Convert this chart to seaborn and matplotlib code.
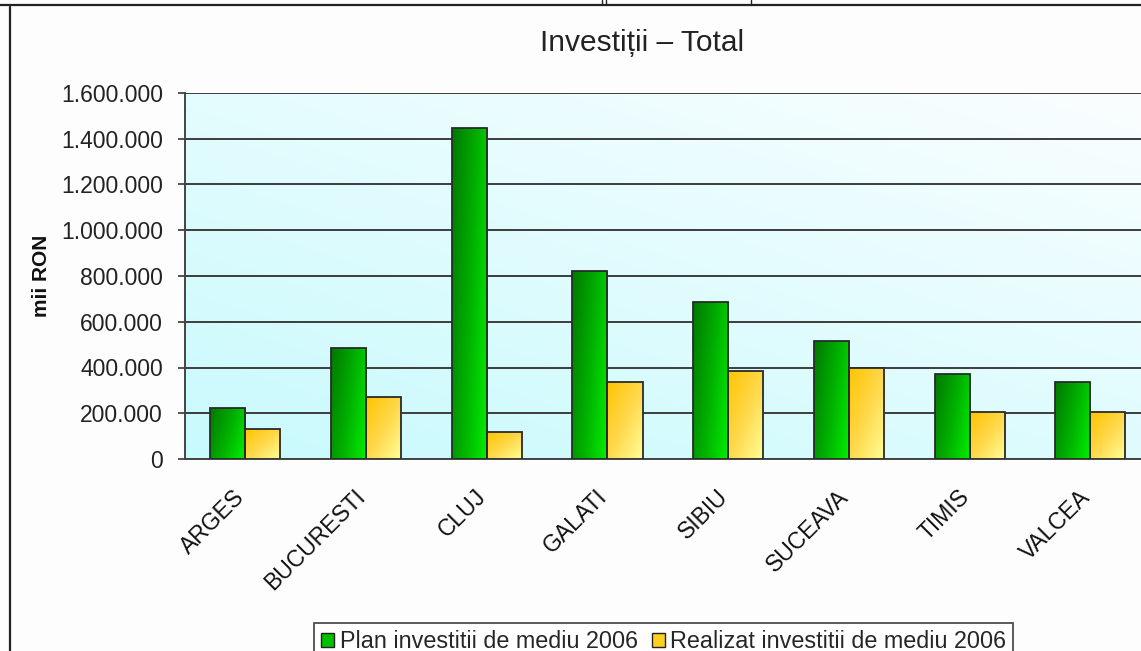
import matplotlib
matplotlib.use("Agg")
import matplotlib.pyplot as plt
import matplotlib.transforms as mtransforms
from matplotlib.colors import LinearSegmentedColormap
from matplotlib.lines import Line2D
from matplotlib.patches import Patch
from matplotlib.ticker import FuncFormatter, FixedLocator
import numpy as np
import pandas as pd
import seaborn as sns

# values (mii RON)
judete = ["ARGES", "BUCURESTI", "CLUJ", "GALATI", "SIBIU", "SUCEAVA", "TIMIS", "VALCEA"]
plan_2006 = [223000, 485000, 1447000, 822000, 686000, 516000, 372000, 337000]
realizat_2006 = [131000, 271000, 118000, 337000, 385000, 398000, 205000, 205000]
serii = ["Plan investitii de mediu 2006", "Realizat investitii de mediu 2006"]
y_ticks = [0, 200000, 400000, 600000, 800000, 1000000, 1200000, 1400000, 1600000]

df = pd.DataFrame({
    "judet": judete * 2,
    "valoare": plan_2006 + realizat_2006,
    "serie": [serii[0]] * len(judete) + [serii[1]] * len(judete),
})

sns.set_style("white")
plt.rcParams["font.family"] = ["Liberation Sans", "DejaVu Sans"]

W, H = 1141, 651
fig = plt.figure(figsize=(W / 100, H / 100), dpi=100, facecolor="#fdfdfd")
ax = fig.add_axes([185 / W, 1 - 459 / H, 965.7 / W, 366 / H])

# background gradient of the plot area
bg = LinearSegmentedColormap.from_list("bg", ["#c8fafd", "#fbfeff"])
gx, gy = np.meshgrid(np.linspace(0, 1, 200), np.linspace(0, 1, 200))
ax.imshow(0.55 * gy + 0.45 * gx, cmap=bg, extent=[0, 1, 0, 1], origin="lower",
          transform=ax.transAxes, aspect="auto", zorder=0, interpolation="bicubic")

sns.barplot(data=df, x="judet", y="valoare", hue="serie", order=judete, hue_order=serii,
            palette=["#00c000", "#ffd730"], width=0.58, edgecolor="#2a2a2a",
            linewidth=1.3, legend=False, ax=ax, zorder=3)

# gradient fill on bars
green = LinearSegmentedColormap.from_list("g", ["#007800", "#00b000", "#00f000"])
yellow = LinearSegmentedColormap.from_list("y", ["#ffc400", "#ffd84a", "#ffff99"])
bx, by = np.meshgrid(np.linspace(0, 1, 60), np.linspace(1, 0, 60))
n = len(judete)
for i, bar in enumerate(ax.patches[:2 * n]):
    cmap = green if i < n else yellow
    grad = 0.7 * bx + 0.3 * (1 - by) if i < n else 0.5 * bx + 0.5 * (1 - by)
    x0, y0 = bar.get_x(), bar.get_y()
    im = ax.imshow(grad, cmap=cmap, extent=[x0, x0 + bar.get_width(), y0, y0 + bar.get_height()],
                   aspect="auto", zorder=3.5, origin="upper", interpolation="bicubic")
    im.set_clip_path(bar)
    bar.set_facecolor("none")
    bar.set_zorder(4)

ax.set_xlim(-0.5, len(judete) - 0.5)
ax.set_ylim(0, 1600000)
ax.set_yticks(y_ticks)
ax.yaxis.set_major_formatter(FuncFormatter(lambda v, p: f"{int(v):,}".replace(",", ".")))
ax.grid(axis="y", color="#3c3c3c", linewidth=1.4, zorder=1)
ax.set_axisbelow(True)

ax.xaxis.set_minor_locator(FixedLocator(np.arange(-0.5, len(judete), 1.0)))
ax.tick_params(axis="x", which="major", length=0, pad=19)
ax.tick_params(axis="x", which="minor", length=4, width=1.3, color="#444444", direction="out")
ax.tick_params(axis="y", length=5, width=1.3, color="#444444", direction="out", pad=11,
               labelsize=16.5, labelcolor="#222222", left=True)
plt.setp(ax.get_xticklabels(), rotation=45, ha="right", va="top", rotation_mode="anchor",
         fontsize=16.5, color="#111111")
shift = mtransforms.ScaledTranslation(-12 / 100, 0, fig.dpi_scale_trans)
for lbl in ax.get_xticklabels():
    lbl.set_transform(lbl.get_transform() + shift)

for side in ["top", "right"]:
    ax.spines[side].set_visible(False)
for side in ["left", "bottom"]:
    ax.spines[side].set_color("#444444")
    ax.spines[side].set_linewidth(1.4)

ax.set_xlabel("")
ax.set_ylabel("mii RON", fontsize=15, fontweight="bold", color="#111111")
ax.yaxis.set_label_coords(-0.139, 0.5)

fig.text(642 / W, 1 - 43 / H, "Investiții – Total", ha="center", va="center",
         fontsize=21.5, color="#222222")

handles = [Patch(facecolor="#00c000", edgecolor="#222222", linewidth=1.0),
           Patch(facecolor="#ffd020", edgecolor="#222222", linewidth=1.0)]
leg = fig.legend(handles, serii, loc="upper left", bbox_to_anchor=(314 / W, 1 - 623 / H),
                 ncol=2, frameon=True, fancybox=False, fontsize=16.8, handlelength=0.55,
                 handleheight=0.55, handletextpad=0.25, columnspacing=0.6, borderpad=0.3,
                 borderaxespad=0)
leg.get_frame().set_edgecolor("#222222")
leg.get_frame().set_linewidth(1.3)

# page borders around the chart
fig.add_artist(Line2D([0, 1], [1 - 5 / H] * 2, color="#222222", lw=1.6))
fig.add_artist(Line2D([10 / W] * 2, [0, 1 - 7 / H], color="#222222", lw=1.6))
for xv in (602, 606, 751):
    fig.add_artist(Line2D([xv / W] * 2, [1 - 5 / H, 1], color="#222222", lw=1.0))

fig.savefig("out.png", dpi=100, facecolor=fig.get_facecolor())
